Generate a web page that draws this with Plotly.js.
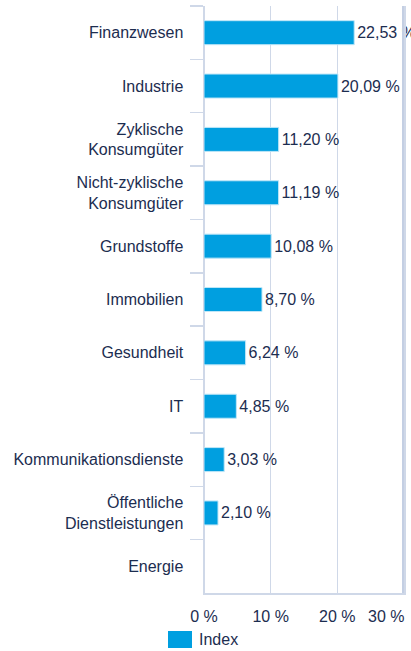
<!DOCTYPE html>
<html>
<head>
<meta charset="utf-8">
<script src="https://cdn.plot.ly/plotly-3.0.1.min.js"></script>
<style>html,body{margin:0;padding:0;background:#fff;overflow:hidden;}#chart{width:411px;height:651px;}</style>
</head>
<body>
<div id="chart"></div>
<script>
var categories = ["Finanzwesen", "Industrie", "Zyklische<br>Konsumgüter", "Nicht-zyklische<br>Konsumgüter", "Grundstoffe", "Immobilien", "Gesundheit", "IT", "Kommunikationsdienste", "Öffentliche<br>Dienstleistungen", "Energie"];
var indexValues = [22.53, 20.09, 11.20, 11.19, 10.08, 8.70, 6.24, 4.85, 3.03, 2.10, null];
var tickValues = [0, 10, 20, 30];
var tickLabels = ["0 %", "10 %", "20 %", "30 %"];
var seriesName = "Index";

var navy = "#1c2d50";
var grid = "#cfd8e8";
var blue = "#009fe0";
var font = "Liberation Sans, Arial, sans-serif";
var fs = 16;

function fmt(v) { return v == null ? "" : v.toFixed(2).replace(".", ",") + " %"; }

var trace = {
  type: "bar",
  orientation: "h",
  y: categories,
  x: indexValues,
  name: seriesName,
  marker: { color: blue, line: { color: "#bfe6f7", width: 1 } },
  text: indexValues.map(fmt),
  textposition: "outside",
  cliponaxis: false,
  textfont: { family: font, size: fs, color: navy },
  hoverinfo: "none",
  showlegend: false
};

// pad the last tick label so it ends at the last gridline, as in the reference
var pad = new Array(9).join("\u00a0");
var shownTicks = tickLabels.map(function (t, i) {
  return i === tickLabels.length - 1 ? t + pad : t;
});

var layout = {
  width: 411, height: 651,
  margin: { l: 204, r: 7, t: 6, b: 58, pad: 0 },
  paper_bgcolor: "#fff", plot_bgcolor: "#fff",
  font: { family: font, size: fs, color: navy },
  bargap: 0.55,
  xaxis: {
    range: [0, 30], tickvals: tickValues, ticktext: shownTicks,
    showgrid: true, gridcolor: grid, gridwidth: 1.5, zeroline: true, zerolinecolor: grid, zerolinewidth: 1.5,
    showline: true, linecolor: grid, linewidth: 1.5,
    ticks: "", ticklabelstandoff: 8, ticklabeloverflow: "allow",
    tickfont: { family: font, size: fs, color: navy },
    fixedrange: true
  },
  yaxis: {
    autorange: "reversed", type: "category",
    tickson: "boundaries", ticks: "outside", ticklen: 13, tickcolor: grid, tickwidth: 1.5,
    showgrid: false, zeroline: false,
    showline: true, mirror: true, linecolor: grid, linewidth: 1.5,
    ticklabelstandoff: 16,
    tickfont: { family: font, size: fs, color: navy },
    fixedrange: true
  },
  shapes: [{
    type: "line", xref: "paper", yref: "paper", layer: "above",
    x0: 0.995, x1: 0.995, y0: 0, y1: 1,
    line: { color: "#c4cfe3", width: 2 }
  }, {
    type: "rect", xref: "paper", yref: "paper",
    x0: -36 / 200, x1: -12 / 200, y0: -55 / 587, y1: -38 / 587,
    fillcolor: blue, line: { width: 0 }
  }],
  annotations: [{
    xref: "paper", yref: "paper", x: -7 / 200, y: -46.5 / 587,
    xanchor: "left", yanchor: "middle", text: seriesName, showarrow: false,
    font: { family: font, size: fs, color: navy }
  }],
  showlegend: false
};

Plotly.newPlot("chart", [trace], layout, { displayModeBar: false, staticPlot: true });
</script>
</body>
</html>
